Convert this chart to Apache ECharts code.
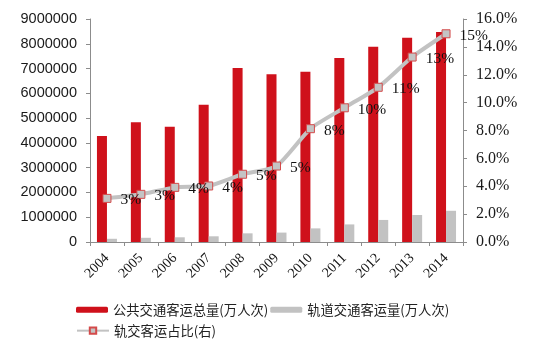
<!DOCTYPE html>
<html>
<head>
<meta charset="utf-8">
<script src="https://cdn.jsdelivr.net/npm/echarts@6/dist/echarts.min.js"></script>
<style>
  html, body { margin: 0; padding: 0; background: #fff; }
  #chart { width: 533px; height: 347px; }
</style>
</head>
<body>
<div id="chart"></div>
<script>
// Years on the category axis
var years = ['2004', '2005', '2006', '2007', '2008', '2009', '2010', '2011', '2012', '2013', '2014'];

// Total public transit ridership (10k person-trips)
var publicTotal = [4280000, 4830000, 4650000, 5540000, 7020000, 6770000, 6870000, 7430000, 7880000, 8240000, 8480000];

// Rail transit ridership (10k person-trips)
var railTotal = [130000, 170000, 190000, 230000, 350000, 380000, 550000, 710000, 890000, 1090000, 1260000];

// Rail share of total ridership, in percent (right axis)
var railShare = [3.13, 3.42, 3.92, 4.02, 4.86, 5.45, 8.13, 9.63, 11.1, 13.27, 14.94];

var seriesNames = ['公共交通客运总量(万人次)', '轨道交通客运量(万人次)', '轨交客运占比(右)'];

var RED = '#cf111b';
var GREY = '#c2c2c2';
var AXIS = '#8c8c8c';
var SERIF = '"Liberation Serif", "Times New Roman", serif';
var SANS = '"Liberation Sans", Arial, sans-serif';
var CJK = '"Noto Sans CJK SC", sans-serif';

var chart = echarts.init(document.getElementById('chart'), null, { renderer: 'canvas' });

chart.setOption({
  animation: false,
  backgroundColor: '#fff',
  grid: { left: 90, right: 70, top: 19, bottom: 105 },
  legend: [
    {
      data: [seriesNames[0], seriesNames[1]],
      left: 76, top: 303, padding: 0,
      itemWidth: 32, itemHeight: 6, itemGap: 2,
      textStyle: { fontFamily: CJK, fontSize: 13.3, color: '#222' }
    },
    {
      data: [seriesNames[2]],
      left: 76, top: 324, padding: 0,
      itemWidth: 32, itemHeight: 8,
      textStyle: { fontFamily: CJK, fontSize: 13.3, color: '#222' }
    }
  ],
  xAxis: {
    type: 'category',
    data: years,
    axisLine: { lineStyle: { color: AXIS, width: 1 } },
    axisTick: { show: true, length: 4, lineStyle: { color: AXIS } },
    axisLabel: {
      rotate: 45, margin: 14,
      fontFamily: SERIF, fontSize: 14, color: '#111'
    }
  },
  yAxis: [
    {
      type: 'value', min: 0, max: 9000000, interval: 1000000,
      axisLine: { show: true, lineStyle: { color: AXIS } },
      axisTick: { show: true, length: 4, lineStyle: { color: AXIS } },
      splitLine: { show: false },
      axisLabel: {
        margin: 13, fontFamily: SANS, fontSize: 14.5, color: '#1a1a1a',
        formatter: function (v) { return String(v); }
      }
    },
    {
      type: 'value', min: 0, max: 16, interval: 2, position: 'right',
      axisLine: { show: true, lineStyle: { color: AXIS } },
      axisTick: { show: true, length: 4, lineStyle: { color: AXIS } },
      splitLine: { show: false },
      axisLabel: {
        margin: 13, fontFamily: SERIF, fontSize: 16, color: '#1a1a1a',
        formatter: function (v) { return v.toFixed(1) + '%'; }
      }
    }
  ],
  series: [
    {
      name: seriesNames[0], type: 'bar', data: publicTotal,
      barWidth: 10, barGap: '0%',
      itemStyle: { color: RED }
    },
    {
      name: seriesNames[1], type: 'bar', data: railTotal,
      barWidth: 10, barGap: '0%',
      itemStyle: { color: GREY }
    },
    {
      name: seriesNames[2], type: 'line', yAxisIndex: 1, data: railShare,
      smooth: 0.2, z: 5,
      symbol: 'rect', symbolSize: 8,
      lineStyle: { color: GREY, width: 4 },
      itemStyle: { color: '#c4c4c4', borderColor: '#d44a4a', borderWidth: 1 },
      label: {
        show: true, position: 'right', distance: 9, offset: [0, 2],
        fontFamily: SERIF, fontSize: 15.5, color: '#111',
        formatter: function (p) { return Math.round(p.value) + '%'; }
      }
    }
  ]
});
</script>
</body>
</html>
